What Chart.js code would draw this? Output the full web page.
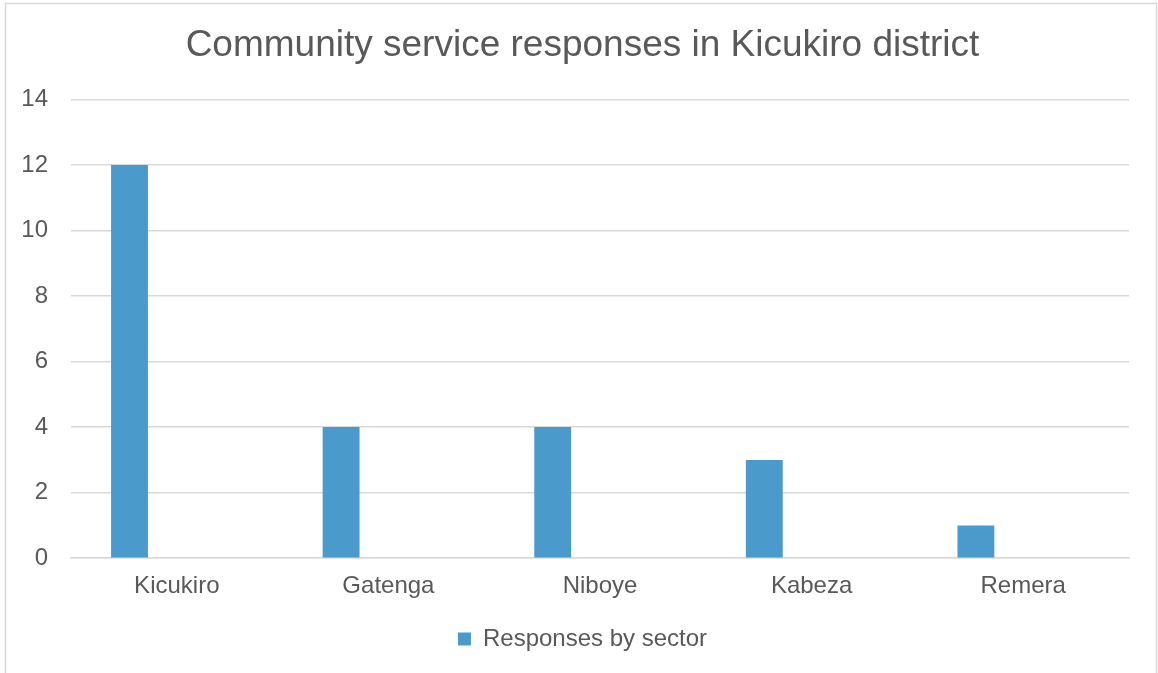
<!DOCTYPE html>
<html>
<head>
<meta charset="utf-8">
<script src="https://cdn.jsdelivr.net/npm/chart.js@4/dist/chart.umd.min.js"></script>
<style>
  html, body { margin: 0; padding: 0; background: #fff; }
  #wrap { position: relative; width: 1158px; height: 673px; }
</style>
</head>
<body>
<div id="wrap"><canvas id="myChart" width="1158" height="673"></canvas></div>
<script>
const sectors = ['Kicukiro', 'Gatenga', 'Niboye', 'Kabeza', 'Remera'];
const responses = [12, 4, 4, 3, 1];
const emptySeries = [null, null, null, null, null]; // second series slot, left blank
const yTicks = [0, 2, 4, 6, 8, 10, 12, 14];

const txt = '#595959';
const grid = '#d9d9d9';
const barBlue = '#4a9bcb';

// outer chart frame
const frame = {
    id: 'frame',
    beforeDraw(chart) {
        const { ctx } = chart;
        ctx.save();
        ctx.fillStyle = '#fff';
        ctx.fillRect(0, 0, chart.width, chart.height);
        ctx.strokeStyle = grid;
        ctx.lineWidth = 1.5;
        ctx.strokeRect(5.5, 3.5, 1151, 700);
        ctx.restore();
    }
};

// centre title and legend on the frame rather than on the padded canvas
const centreBlocks = {
    id: 'centreBlocks',
    afterLayout(chart) {
        [chart.titleBlock, chart.legend].forEach(b => {
            if (!b) return;
            b.left = 36;
            b.right = chart.width - 29;
            b.width = b.right - b.left;
        });
    }
};

const config = {
    type: 'bar',
    data: {
        labels: sectors,
        datasets: [
            { label: 'Responses by sector', data: responses, backgroundColor: barBlue },
            { label: '', data: emptySeries, backgroundColor: 'transparent' }
        ]
    },
    options: {
        responsive: false,
        animation: false,
        categoryPercentage: 0.894,
        barPercentage: 0.39,
        layout: { padding: { left: 0, right: 29, top: 14, bottom: 12 } },
        scales: {
            x: {
                grid: { display: false, drawTicks: false },
                border: { color: grid, width: 1.5 },
                ticks: { color: txt, font: { family: 'Liberation Sans', size: 24 }, padding: 14 }
            },
            y: {
                min: 0, max: 14,
                afterBuildTicks: (axis) => { axis.ticks = yTicks.map(v => ({ value: v })); },
                afterFit: (axis) => { axis.width = 71; },
                grid: { color: grid, lineWidth: 1.5, drawTicks: false },
                border: { display: false },
                ticks: { color: txt, font: { family: 'Liberation Sans', size: 24 }, padding: 23 }
            }
        },
        plugins: {
            title: {
                display: true,
                text: 'Community service responses in Kicukiro district',
                color: txt,
                font: { family: 'Liberation Sans', size: 37, weight: 'normal' },
                padding: { top: 10, bottom: 31 }
            },
            legend: {
                position: 'bottom',
                labels: {
                    color: txt,
                    font: { family: 'Liberation Sans', size: 24 },
                    boxWidth: 13, boxHeight: 13,
                    padding: 12,
                    filter: (item) => item.text !== ''
                }
            },
            tooltip: { enabled: false }
        }
    },
    plugins: [frame, centreBlocks]
};
const myChart = new Chart(document.getElementById('myChart'), config);
</script>
</body>
</html>
